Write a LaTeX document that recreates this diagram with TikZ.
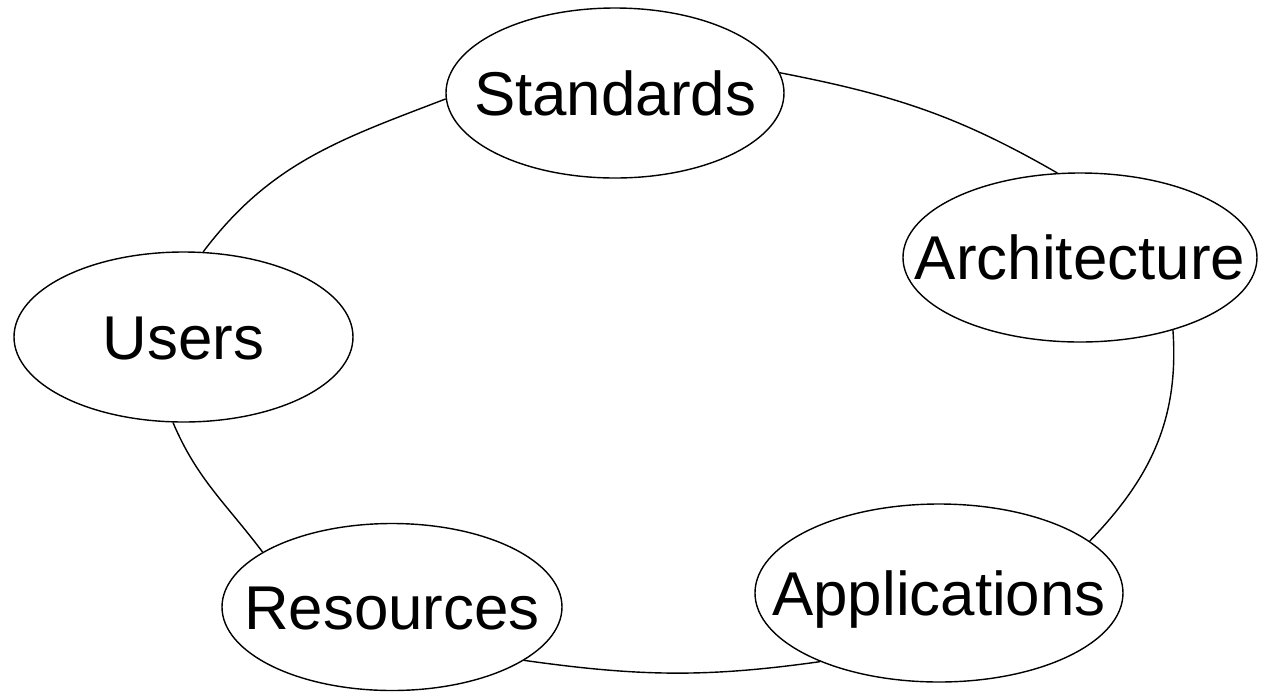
\documentclass[tikz,border=0pt]{standalone}
\usepackage{fontspec}
\setmainfont{Liberation Sans}
\usetikzlibrary{shapes.geometric}
\tikzset{
    cyc_node/.style = {ellipse, draw=black, fill=white, line width=0.4pt, inner sep=0pt,
        font=\fontsize{17.6}{20}\selectfont, text height=12.7pt, text depth=0pt,
        minimum height=1.7cm},% ellipse of the cycle
    cyc_edge/.style = {line width=0.4pt},% arc between two ellipses
}
\newcommand{\cyctext}[1]{\makebox[0pt]{#1}}

\begin{document}
\begin{tikzpicture}
\useasboundingbox (0,0) rectangle (12.66,-6.92);
\node [cyc_node, minimum width=3.38cm] (std) at (6.15,-0.93) {\cyctext{Standards}};
\node [cyc_node, minimum width=3.54cm, minimum height=1.69cm] (arch) at (10.80,-2.575) {\cyctext{Architecture}};
\node [cyc_node, minimum width=3.68cm, minimum height=1.78cm] (app) at (9.39,-5.93) {\cyctext{Applications}};
\node [cyc_node, minimum width=3.40cm, minimum height=1.67cm] (res) at (3.92,-6.07) {\cyctext{Resources}};
\node [cyc_node, minimum width=3.39cm] (usr) at (1.835,-3.37) {\cyctext{Users}};
% the cycle
\draw [cyc_edge] (std.7) to[out=-11, in=150] (arch.105);
\draw [cyc_edge] (arch.-38) to[out=-86, in=46] (app.19);
\draw [cyc_edge] (app.-150) to[out=188, in=-8] (res.-22);
\draw [cyc_edge] (res.157) to[out=127, in=-67] (usr.-97);
\draw [cyc_edge] (usr.77) to[out=53, in=201] (std.182);
\end{tikzpicture}
\end{document}
